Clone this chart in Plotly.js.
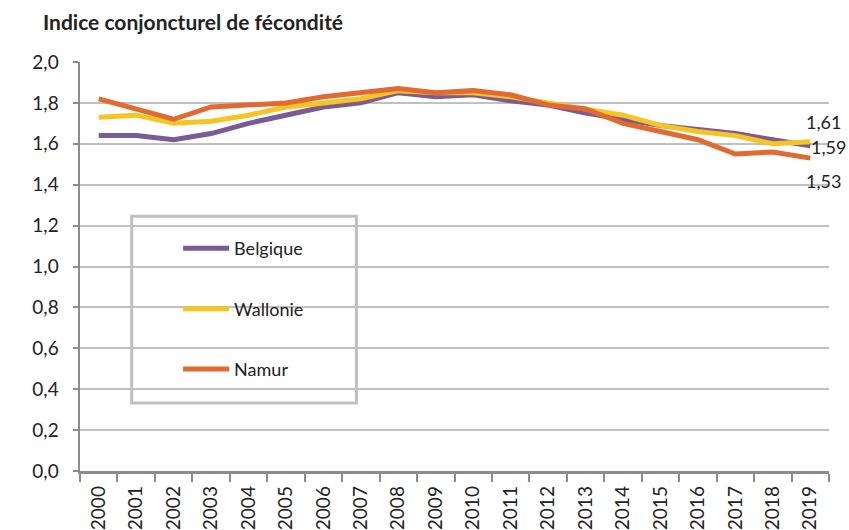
<!DOCTYPE html>
<html>
<head>
<meta charset="utf-8">
<script src="https://cdn.plot.ly/plotly-3.0.1.min.js"></script>
<style>html,body{margin:0;padding:0;background:#fff;}#chart{width:849px;height:530px;}</style>
</head>
<body>
<div id="chart"></div>
<script>
const years = ['2000','2001','2002','2003','2004','2005','2006','2007','2008','2009','2010','2011','2012','2013','2014','2015','2016','2017','2018','2019'];
const belgique = [1.64,1.64,1.62,1.65,1.70,1.74,1.78,1.80,1.85,1.83,1.84,1.81,1.79,1.75,1.72,1.69,1.67,1.65,1.62,1.59];
const wallonie = [1.73,1.74,1.70,1.71,1.74,1.78,1.80,1.82,1.86,1.85,1.85,1.83,1.80,1.77,1.74,1.69,1.66,1.64,1.60,1.61];
const namur    = [1.82,1.77,1.72,1.78,1.79,1.80,1.83,1.85,1.87,1.85,1.86,1.84,1.79,1.77,1.70,1.66,1.62,1.55,1.56,1.53];
const seriesNames = ['Belgique','Wallonie','Namur'];
const colors = ['#7a5b95','#f6c523','#e2692f'];
const endLabels = ['1,59','1,61','1,53'];

const FONT = 'Lato, "Open Sans", sans-serif';
const dataSets = [belgique, wallonie, namur];
const traces = dataSets.map((d,i)=>({
  type:'scatter', mode:'lines', x:years, y:d, name:seriesNames[i],
  legendgroup:'g'+i,
  line:{color:colors[i], width:5}
}));

const lastIdx = years.length-1;
const shifts = [[-1,-1],[-6,20],[-6,-23]];
const annotations = dataSets.map((d,i)=>({
  x:lastIdx, y:d[lastIdx], text:endLabels[i], showarrow:false, xanchor:'left', yanchor:'middle',
  xshift:shifts[i][0], yshift:shifts[i][1], font:{family:FONT,size:18,color:'#222'}
}));

const layout = {
  width:849, height:530,
  margin:{l:80, r:20, t:62, b:59},
  paper_bgcolor:'#fff', plot_bgcolor:'#fff',
  separators:', ',
  font:{family:FONT, size:18, color:'#222'},
  title:{text:'<b>Indice conjoncturel de fécondité</b>', x:43/849, xanchor:'left', xref:'container',
         y:1-23/530, yanchor:'middle', yref:'container', font:{family:FONT, size:21, color:'#222'}},
  showlegend:true,
  legend:{x:0.131, xanchor:'left', y:0.589, yanchor:'top', bgcolor:'rgba(0,0,0,0)',
          borderwidth:0, traceorder:'grouped', tracegroupgap:34, itemwidth:46,
          font:{family:FONT, size:18, color:'#222'}},
  shapes:[{type:'rect', xref:'paper', yref:'paper', x0:0.069, x1:0.369, y0:0.166, y1:0.623,
           line:{color:'#c0c0c0', width:3}, fillcolor:'rgba(0,0,0,0)', layer:'above'}],
  xaxis:{type:'category', categoryorder:'array', categoryarray:years, range:[-0.5, years.length-0.5],
         tickson:'boundaries', ticks:'outside', ticklen:8, tickwidth:2, tickcolor:'#8c8c8c',
         showline:true, linecolor:'#8c8c8c', linewidth:2.5, showgrid:false, tickangle:-90,
         ticklabelstandoff:5,
         tickfont:{family:FONT, size:19, color:'#222'}, fixedrange:true},
  yaxis:{range:[0,2], dtick:0.2, tick0:0, tickformat:'.1f', ticks:'outside', ticklen:5, tickwidth:2, tickcolor:'#8c8c8c',
         showline:true, linecolor:'#8c8c8c', linewidth:2.5, showgrid:true, gridcolor:'#c0c0c0', gridwidth:2,
         zeroline:false, tickfont:{family:FONT, size:19, color:'#222'}, ticklabelstandoff:10, fixedrange:true},
  annotations:annotations
};
Plotly.newPlot('chart', traces, layout, {staticPlot:true});
</script>
</body>
</html>
